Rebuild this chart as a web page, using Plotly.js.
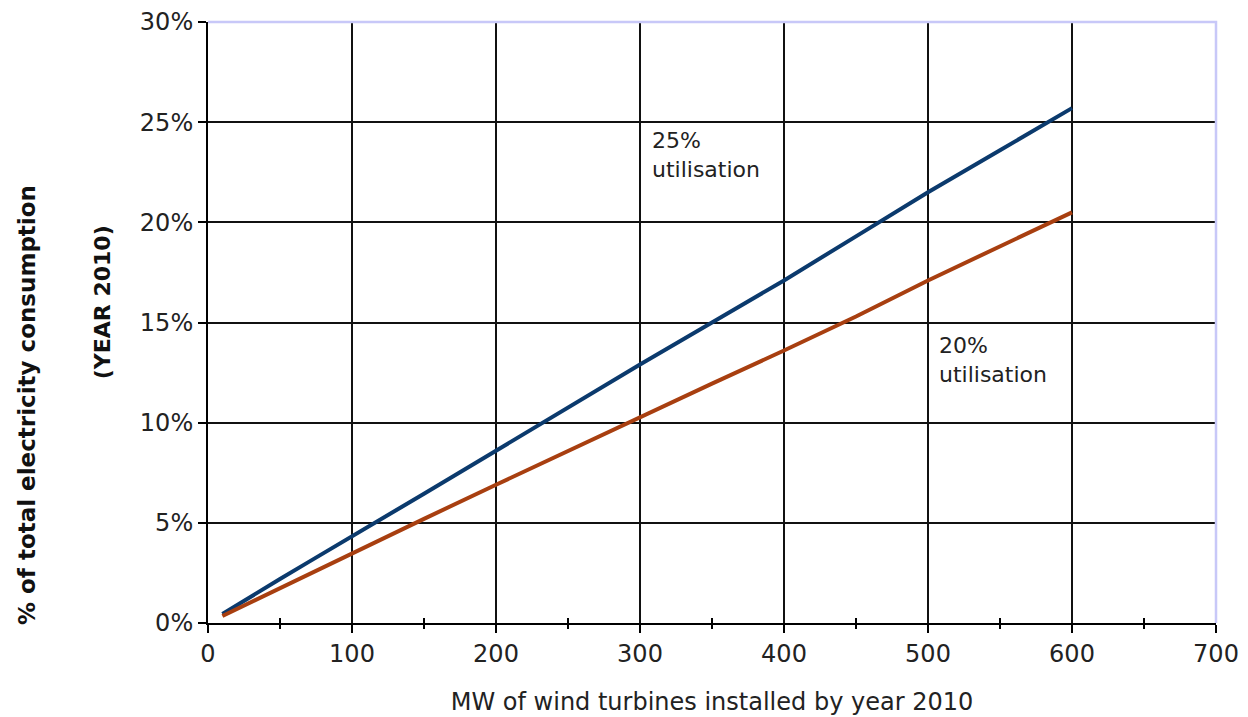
<!DOCTYPE html>
<html>
<head>
<meta charset="utf-8">
<script src="https://cdn.plot.ly/plotly-3.0.1.min.js"></script>
<style>html,body{margin:0;padding:0;background:#fff;}#chart{width:1248px;height:717px;}</style>
</head>
<body>
<div id="chart"></div>
<script>
// Data
const mw = [10, 30, 50, 70, 100, 130, 150, 200, 250, 300, 350, 400, 450, 500, 550, 600];
const util25 = [0.45, 1.35, 2.2, 3.05, 4.35, 5.6, 6.45, 8.6, 10.8, 12.9, 15.0, 17.1, 19.3, 21.5, 23.6, 25.7];
const util20 = [0.35, 1.05, 1.75, 2.45, 3.5, 4.5, 5.2, 6.9, 8.6, 10.3, 11.95, 13.6, 15.3, 17.1, 18.8, 20.5];
const yTickVals = [0, 5, 10, 15, 20, 25, 30];
const yTickText = ["0%", "5%", "10%", "15%", "20%", "25%", "30%"];
const xTickVals = [0, 100, 200, 300, 400, 500, 600, 700];
const xMinorVals = [50, 150, 250, 350, 450, 550, 650];
const seriesNames = ["25% utilisation", "20% utilisation"];
const xTitle = "MW of wind turbines installed by year 2010";
const yTitle1 = "% of total electricity consumption";
const yTitle2 = "(YEAR 2010)";

const font = "DejaVu Sans, Verdana, sans-serif";

const traces = [
  {x: mw, y: util25, name: seriesNames[0], mode: "lines", line: {color: "#0b3a6d", width: 4}},
  {x: mw, y: util20, name: seriesNames[1], mode: "lines", line: {color: "#a83f10", width: 4}},
  {x: [null], y: [null], xaxis: "x2", yaxis: "y", showlegend: false, hoverinfo: "skip"}
];

const layout = {
  width: 1248, height: 717,
  margin: {l: 208, r: 32, t: 22, b: 94},
  paper_bgcolor: "#ffffff", plot_bgcolor: "#ffffff",
  showlegend: false,
  font: {family: font, color: "#222", size: 24},
  xaxis: {
    range: [0, 700], tickvals: xTickVals, ticktext: xTickVals.map(String),
    showgrid: true, gridcolor: "#111", gridwidth: 2,
    showline: true, linecolor: "#000", linewidth: 2,
    ticks: "outside", ticklen: 8, tickcolor: "#000", tickwidth: 2,
    minor: {tickvals: xMinorVals, ticks: "inside", ticklen: 5, tickcolor: "#000", tickwidth: 2, showgrid: false},
    zeroline: false,
    tickfont: {family: font, size: 24, color: "#222"},
    title: {text: xTitle, font: {family: font, size: 24, color: "#222"}, standoff: 26},
    automargin: false
  },
  xaxis2: {
    overlaying: "x", matches: "x", range: [0, 700], anchor: "y", side: "bottom",
    tickvals: xMinorVals, ticks: "outside", ticklen: 5, tickcolor: "#000", tickwidth: 2,
    showticklabels: false, showgrid: false, showline: false, zeroline: false
  },
  yaxis: {
    range: [0, 30], tickvals: yTickVals, ticktext: yTickText,
    showgrid: true, gridcolor: "#111", gridwidth: 2,
    showline: true, linecolor: "#000", linewidth: 2,
    ticks: "outside", ticklen: 8, tickcolor: "#000", tickwidth: 2,
    zeroline: false,
    tickfont: {family: font, size: 24, color: "#222"},
    automargin: false
  },
  shapes: [
    {type: "path", xref: "paper", yref: "paper", path: "M 0,1 L 1,1 L 1,0", line: {color: "#c8c8f8", width: 2.5}, layer: "above"}
  ],
  annotations: [
    {xref: "x", yref: "y", x: 307, y: 24.8, xanchor: "left", yanchor: "top", align: "left", showarrow: false,
     text: "25%<br>utilisation", font: {family: font, size: 22, color: "#222"}},
    {xref: "x", yref: "y", x: 506, y: 14.6, xanchor: "left", yanchor: "top", align: "left", showarrow: false,
     text: "20%<br>utilisation", font: {family: font, size: 22, color: "#222"}},
    {xref: "paper", yref: "paper", x: -0.1796, y: 0.3627, textangle: -90, showarrow: false,
     xanchor: "center", yanchor: "middle",
     text: "<b>" + yTitle1 + "</b>", font: {family: font, size: 23, color: "#111"}},
    {xref: "paper", yref: "paper", x: -0.105, y: 0.534, textangle: -90, showarrow: false,
     xanchor: "center", yanchor: "middle",
     text: "<b>" + yTitle2 + "</b>", font: {family: font, size: 22, color: "#111"}}
  ]
};

Plotly.newPlot("chart", traces, layout, {displayModeBar: false, staticPlot: true});
</script>
</body>
</html>
